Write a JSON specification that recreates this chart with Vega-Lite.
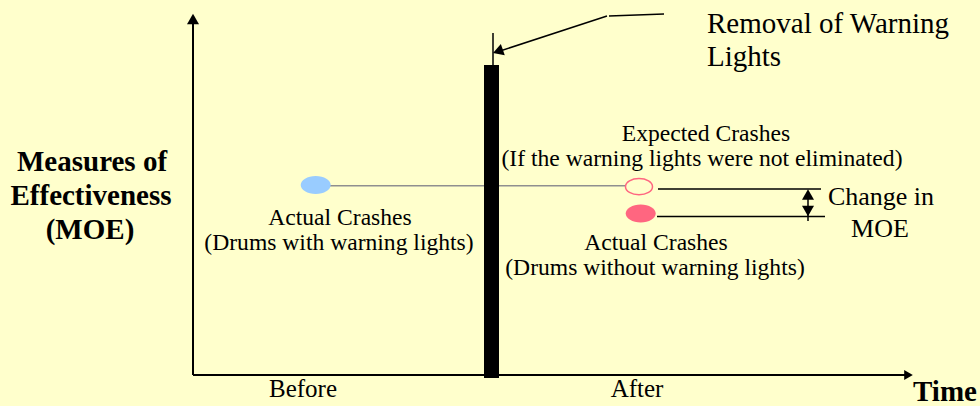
{
  "$schema": "https://vega.github.io/schema/vega-lite/v6.json",
  "width": 980,
  "height": 406,
  "padding": 0,
  "autosize": {"type": "none"},
  "background": "#FFFFCC",
  "config": {"view": {"stroke": null}, "text": {"font": "Liberation Serif"}},
  "datasets": {
    "axisLines": [
      {"x": 193, "y": 375, "x2": 193, "y2": 22},
      {"x": 193, "y": 375, "x2": 905, "y2": 375}
    ],
    "thinLines": [
      {"x": 493, "y": 33, "x2": 493, "y2": 65},
      {"x": 607, "y": 16, "x2": 497, "y2": 52},
      {"x": 609, "y": 16, "x2": 664, "y2": 14},
      {"x": 658, "y": 189, "x2": 821, "y2": 189},
      {"x": 657, "y": 216.5, "x2": 825, "y2": 216.5},
      {"x": 808, "y": 194, "x2": 808, "y2": 221}
    ],
    "grayLine": [{"x": 330, "y": 185.7, "x2": 626, "y2": 185.7}],
    "bar": [{"x": 484, "x2": 499, "y": 65, "y2": 378}],
    "arrowUp": [{"x": 193, "y": 19}, {"x": 808, "y": 194.5}],
    "arrowDown": [{"x": 808, "y": 211}],
    "arrowRight": [{"x": 908.5, "y": 375}],
    "arrowDiag": [{"x": 497.9, "y": 51.3}],
    "before": [{"x": 315.7, "y": 185, "label": "Actual crashes before"}],
    "expected": [{"x": 639, "y": 186.7, "label": "Expected crashes after"}],
    "after": [{"x": 640.7, "y": 213.5, "label": "Actual crashes after"}],
    "titleText": [
      {"x": 707, "y": 33, "text": "Removal of Warning"},
      {"x": 707, "y": 66, "text": "Lights"}
    ],
    "labelText": [
      {"x": 706, "y": 141, "text": "Expected Crashes"},
      {"x": 702, "y": 166, "text": "(If the warning lights were not eliminated)"},
      {"x": 340, "y": 225, "text": "Actual Crashes"},
      {"x": 339, "y": 250, "text": "(Drums with warning lights)"},
      {"x": 656, "y": 250, "text": "Actual Crashes"},
      {"x": 655, "y": 275, "text": "(Drums without warning lights)"}
    ],
    "changeText": [
      {"x": 881, "y": 205, "text": "Change in"},
      {"x": 880, "y": 237, "text": "MOE"}
    ],
    "timeText": [
      {"x": 303, "y": 397, "text": "Before"},
      {"x": 637, "y": 397, "text": "After"}
    ],
    "boldText": [
      {"x": 92, "y": 171, "text": "Measures of"},
      {"x": 91, "y": 205, "text": "Effectiveness"},
      {"x": 90, "y": 239, "text": "(MOE)"},
      {"x": 945, "y": 401, "text": "Time"}
    ]
  },
  "encoding": {
    "x": {"field": "x", "type": "quantitative", "scale": {"domain": [0, 980], "nice": false, "zero": false}, "axis": null},
    "y": {"field": "y", "type": "quantitative", "scale": {"domain": [0, 406], "nice": false, "zero": false, "reverse": true}, "axis": null}
  },
  "layer": [
    {
      "data": {"name": "grayLine"},
      "mark": {"type": "rule", "color": "#8f8f8f", "strokeWidth": 1.5},
      "encoding": {"x2": {"field": "x2"}, "y2": {"field": "y2"}}
    },
    {
      "data": {"name": "axisLines"},
      "mark": {"type": "rule", "color": "#000000", "strokeWidth": 2},
      "encoding": {"x2": {"field": "x2"}, "y2": {"field": "y2"}}
    },
    {
      "data": {"name": "thinLines"},
      "mark": {"type": "rule", "color": "#000000", "strokeWidth": 1.5},
      "encoding": {"x2": {"field": "x2"}, "y2": {"field": "y2"}}
    },
    {
      "data": {"name": "bar"},
      "mark": {"type": "rect", "color": "#000000"},
      "encoding": {"x2": {"field": "x2"}, "y2": {"field": "y2"}}
    },
    {
      "data": {"name": "arrowUp"},
      "mark": {"type": "point", "shape": "triangle-up", "size": 144, "filled": true, "color": "#000000", "opacity": 1}
    },
    {
      "data": {"name": "arrowDown"},
      "mark": {"type": "point", "shape": "triangle-down", "size": 144, "filled": true, "color": "#000000", "opacity": 1}
    },
    {
      "data": {"name": "arrowRight"},
      "mark": {"type": "point", "shape": "triangle-right", "size": 100, "filled": true, "color": "#000000", "opacity": 1}
    },
    {
      "data": {"name": "arrowDiag"},
      "mark": {"type": "point", "shape": "triangle-up", "angle": 251, "size": 144, "filled": true, "color": "#000000", "opacity": 1}
    },
    {
      "data": {"name": "before"},
      "mark": {"type": "point", "shape": "M-1,0A1,0.6,0,1,1,1,0A1,0.6,0,1,1,-1,0Z", "size": 900, "filled": true, "color": "#99CCFF", "opacity": 1}
    },
    {
      "data": {"name": "expected"},
      "mark": {"type": "point", "shape": "M-1,0A1,0.6,0,1,1,1,0A1,0.6,0,1,1,-1,0Z", "size": 729, "filled": true, "fill": "#FFFFCC", "stroke": "#FF6680", "strokeWidth": 1.5, "opacity": 1}
    },
    {
      "data": {"name": "after"},
      "mark": {"type": "point", "shape": "M-1,0A1,0.6,0,1,1,1,0A1,0.6,0,1,1,-1,0Z", "size": 900, "filled": true, "color": "#FF6680", "opacity": 1}
    },
    {
      "data": {"name": "titleText"},
      "mark": {"type": "text", "font": "Liberation Serif", "fontSize": 29, "align": "left", "baseline": "alphabetic", "color": "#000000"},
      "encoding": {"text": {"field": "text"}}
    },
    {
      "data": {"name": "labelText"},
      "mark": {"type": "text", "font": "Liberation Serif", "fontSize": 23.6, "align": "center", "baseline": "alphabetic", "color": "#000000"},
      "encoding": {"text": {"field": "text"}}
    },
    {
      "data": {"name": "changeText"},
      "mark": {"type": "text", "font": "Liberation Serif", "fontSize": 26, "align": "center", "baseline": "alphabetic", "color": "#000000"},
      "encoding": {"text": {"field": "text"}}
    },
    {
      "data": {"name": "timeText"},
      "mark": {"type": "text", "font": "Liberation Serif", "fontSize": 25, "align": "center", "baseline": "alphabetic", "color": "#000000"},
      "encoding": {"text": {"field": "text"}}
    },
    {
      "data": {"name": "boldText"},
      "mark": {"type": "text", "font": "Liberation Serif", "fontSize": 29, "fontWeight": "bold", "align": "center", "baseline": "alphabetic", "color": "#000000"},
      "encoding": {"text": {"field": "text"}}
    }
  ]
}
